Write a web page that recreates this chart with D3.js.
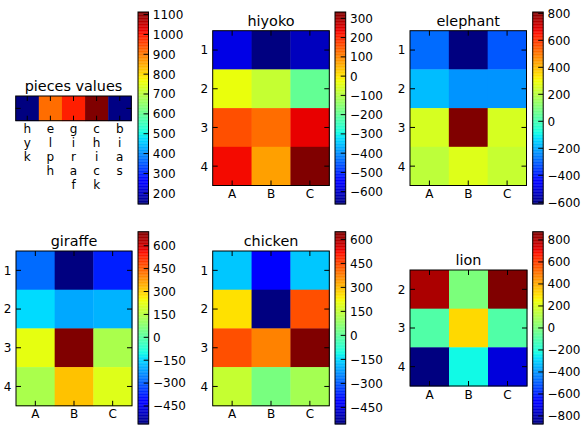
<!DOCTYPE html>
<html>
<head>
<meta charset="utf-8">
<script src="https://cdn.jsdelivr.net/npm/d3@7"></script>
<style>
  body { margin: 0; background: #fff; }
  svg { display: block; }
  text { font-family: "DejaVu Sans", sans-serif; fill: #000; }
</style>
</head>
<body>
<svg id="fig" width="582" height="426"></svg>
<script>
// ---- data ----
const colLabels = ["A", "B", "C"];
const rowLabels = ["1", "2", "3", "4"];
const lionRowLabels = ["2", "3", "4"];

const pieceNames = ["hyk", "elph", "giraf", "chick", "bias"];
const pieceValues = [146, 914, 995, 1113, 150];

const hiyokoValues = [
  [-576, -664, -610],
  [-31, -76, -195],
  [160, 128, 243],
  [233, 74, 333]
];
const elephantValues = [
  [-286, -613, -314],
  [-172, -229, -229],
  [255, 810, 255],
  [212, 269, 227]
];
const giraffeValues = [
  [-278, -568, -373],
  [-140, -203, -190],
  [226, 692, 134],
  [134, 320, 213]
];
const chickenValues = [
  [-169, -405, -169],
  [254, -554, 439],
  [439, 374, 648],
  [155, 42, 107]
];
const lionValues = [
  [810, 1, 875],
  [-92, 316, -92],
  [-873, -226, -733]
];

const pieceTicks = [200, 300, 400, 500, 600, 700, 800, 900, 1000, 1100];
const hiyokoTicks = [-600, -500, -400, -300, -200, -100, 0, 100, 200, 300];
const elephantTicks = [-600, -400, -200, 0, 200, 400, 600, 800];
const giraffeTicks = [-450, -300, -150, 0, 150, 300, 450, 600];
const chickenTicks = [-450, -300, -150, 0, 150, 300, 450, 600];
const lionTicks = [-800, -600, -400, -200, 0, 200, 400, 600, 800];

// ---- jet colormap (piecewise linear) ----
const jetR = [[0, 0], [0.35, 0], [0.66, 1], [0.89, 1], [1, 0.5]];
const jetG = [[0, 0], [0.125, 0], [0.375, 1], [0.64, 1], [0.91, 0], [1, 0]];
const jetB = [[0, 0.5], [0.11, 1], [0.34, 1], [0.65, 0], [1, 0]];
function seg(pts, t) {
  for (let i = 1; i < pts.length; i++) {
    if (t <= pts[i][0]) {
      const [x0, y0] = pts[i - 1], [x1, y1] = pts[i];
      return y0 + (y1 - y0) * (t - x0) / (x1 - x0);
    }
  }
  return pts[pts.length - 1][1];
}
function jet(t) {
  t = Math.max(0, Math.min(1, t));
  return d3.rgb(255 * seg(jetR, t), 255 * seg(jetG, t), 255 * seg(jetB, t)).formatRgb();
}

const fmt = d => (d < 0 ? "\u2212" + Math.abs(d) : String(d));
const svg = d3.select("#fig");
const TICK = 5;

function panel(opt) {
  const { title, rows, cols, values, box, cbar, ticks, colText, rowText } = opt;
  const g = svg.append("g");
  const flat = values.flat();
  const [vmin, vmax] = d3.extent(flat);
  const norm = d3.scaleLinear().domain([vmin, vmax]).range([0, 1]);

  const x = d3.scaleBand().domain(cols).range([box.x0, box.x1]);
  const y = d3.scaleBand().domain(rows).range([box.y0, box.y1]);

  // cells
  rows.forEach((r, i) => {
    cols.forEach((c, j) => {
      g.append("rect")
        .attr("x", x(c)).attr("y", y(r))
        .attr("width", x.bandwidth() + 0.4).attr("height", y.bandwidth() + 0.4)
        .attr("fill", jet(norm(values[i][j])));
    });
  });

  // frame
  g.append("rect")
    .attr("x", box.x0).attr("y", box.y0)
    .attr("width", box.x1 - box.x0).attr("height", box.y1 - box.y0)
    .attr("fill", "none").attr("stroke", "#000").attr("stroke-width", 1);

  // ticks on all four sides, pointing inward
  cols.forEach(c => {
    const cx = x(c) + x.bandwidth() / 2;
    g.append("line").attr("x1", cx).attr("x2", cx).attr("y1", box.y0).attr("y2", box.y0 + TICK).attr("stroke", "#000");
    g.append("line").attr("x1", cx).attr("x2", cx).attr("y1", box.y1).attr("y2", box.y1 - TICK).attr("stroke", "#000");
  });
  rows.forEach(r => {
    const cy = y(r) + y.bandwidth() / 2;
    g.append("line").attr("y1", cy).attr("y2", cy).attr("x1", box.x0).attr("x2", box.x0 + TICK).attr("stroke", "#000");
    g.append("line").attr("y1", cy).attr("y2", cy).attr("x1", box.x1).attr("x2", box.x1 - TICK).attr("stroke", "#000");
  });

  // column labels (possibly stacked vertically letter by letter)
  cols.forEach((c, j) => {
    const cx = x(c) + x.bandwidth() / 2;
    const lines = colText ? colText[j] : [c];
    const t = g.append("text").attr("text-anchor", "middle").attr("font-size", 12);
    lines.forEach((ln, k) => {
      t.append("tspan").attr("x", cx).attr("y", box.y1 + 12.6 + k * 14).text(ln);
    });
  });

  // row labels
  if (rowText !== false) {
    rows.forEach(r => {
      const cy = y(r) + y.bandwidth() / 2;
      g.append("text").attr("x", box.x0 - 4.5).attr("y", cy + 4.4)
        .attr("text-anchor", "end").attr("font-size", 12).text(r);
    });
  }

  // title
  g.append("text").attr("x", (box.x0 + box.x1) / 2).attr("y", box.y0 - 4.7)
    .attr("text-anchor", "middle").attr("font-size", 14.4).text(title);

  // colorbar
  const cy = d3.scaleLinear().domain([vmin, vmax]).range([cbar.y1, cbar.y0]);
  const N = 256;
  const h = (cbar.y1 - cbar.y0) / N;
  d3.range(N).forEach(k => {
    g.append("rect")
      .attr("x", cbar.x0).attr("y", cbar.y1 - (k + 1) * h)
      .attr("width", cbar.x1 - cbar.x0).attr("height", h + 0.3)
      .attr("fill", jet((k + 0.5) / N));
  });
  g.append("rect")
    .attr("x", cbar.x0).attr("y", cbar.y0)
    .attr("width", cbar.x1 - cbar.x0).attr("height", cbar.y1 - cbar.y0)
    .attr("fill", "none").attr("stroke", "#000").attr("stroke-width", 1);
  ticks.forEach(tv => {
    const ty = cy(tv);
    g.append("line").attr("x1", cbar.x1 - TICK).attr("x2", cbar.x1)
      .attr("y1", ty).attr("y2", ty).attr("stroke", "#000");
    g.append("text").attr("x", cbar.x1 + 4.3).attr("y", ty + 4.4)
      .attr("font-size", 12).text(fmt(tv));
  });
}

panel({
  title: "pieces values", rows: [""], cols: pieceNames, values: [pieceValues],
  box: { x0: 15.7, x1: 131.3, y0: 96, y1: 120.7 },
  cbar: { x0: 138, x1: 148.5, y0: 12, y1: 204 },
  ticks: pieceTicks,
  colText: pieceNames.map(s => s.split("")),
  rowText: false
});
panel({
  title: "hiyoko", rows: rowLabels, cols: colLabels, values: hiyokoValues,
  box: { x0: 212.7, x1: 329.3, y0: 30.7, y1: 185.5 },
  cbar: { x0: 335, x1: 345.7, y0: 12, y1: 204 },
  ticks: hiyokoTicks
});
panel({
  title: "elephant", rows: rowLabels, cols: colLabels, values: elephantValues,
  box: { x0: 410, x1: 526.5, y0: 30.7, y1: 185.5 },
  cbar: { x0: 532.7, x1: 543.2, y0: 12, y1: 204 },
  ticks: elephantTicks
});
panel({
  title: "giraffe", rows: rowLabels, cols: colLabels, values: giraffeValues,
  box: { x0: 16, x1: 132, y0: 251, y1: 405.8 },
  cbar: { x0: 138, x1: 148.7, y0: 231.7, y1: 424 },
  ticks: giraffeTicks
});
panel({
  title: "chicken", rows: rowLabels, cols: colLabels, values: chickenValues,
  box: { x0: 212.7, x1: 329.3, y0: 251, y1: 405.8 },
  cbar: { x0: 335, x1: 345.7, y0: 231.7, y1: 424 },
  ticks: chickenTicks
});
panel({
  title: "lion", rows: lionRowLabels, cols: colLabels, values: lionValues,
  box: { x0: 410, x1: 527, y0: 270, y1: 386 },
  cbar: { x0: 532.7, x1: 543.2, y0: 231.7, y1: 424 },
  ticks: lionTicks
});
</script>
</body>
</html>
